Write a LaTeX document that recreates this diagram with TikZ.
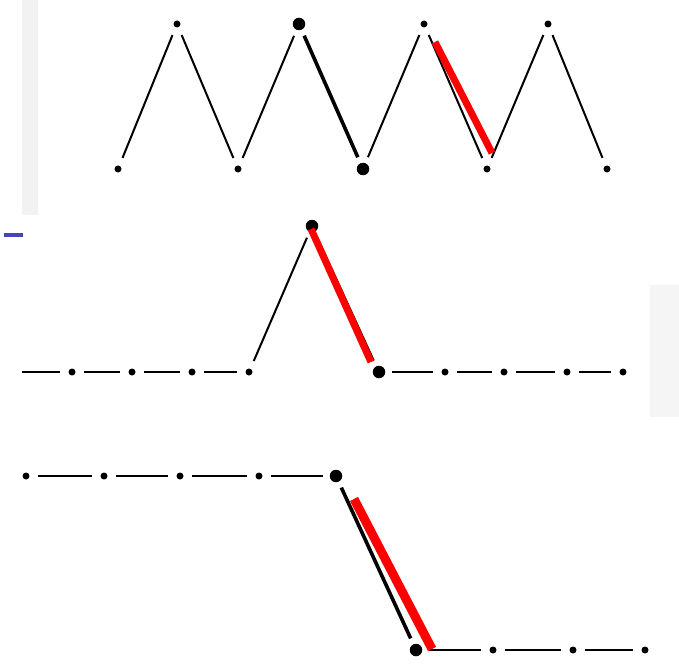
\documentclass[tikz,border=0pt]{standalone}
\usetikzlibrary{calc}

\tikzset{
  dot/.style={circle,fill=black,inner sep=0pt,minimum size=7pt,outer sep=8.5pt},
  bigdot/.style={dot,minimum size=12.5pt,outer sep=6.5pt},
  seg/.style={line width=2pt},
  heavy/.style={line width=3.6pt},
  hilite/.style={red,line width=7pt},
}

\begin{document}
\begin{tikzpicture}[x=1pt,y=-1pt]
  \useasboundingbox (0,0) rectangle (679,663);
  \fill[black!5] (22,0) rectangle (38,215);
  \fill[black!4] (650,285) rectangle (679,417);
  \fill[blue!45!gray] (4,233) rectangle (23,237);

  % zigzag
  \node[dot] (t1) at (118,169) {};
  \node[dot] (t2) at (177,24) {};
  \node[dot] (t3) at (238,169) {};
  \node[bigdot] (t4) at (299,24) {};
  \node[bigdot] (t5) at (363,169) {};
  \node[dot] (t6) at (424,24) {};
  \node[dot] (t7) at (487,169) {};
  \node[dot] (t8) at (548,24) {};
  \node[dot] (t9) at (607,169) {};
  \foreach \a/\b in {t1/t2,t2/t3,t3/t4,t5/t6,t6/t7,t7/t8,t8/t9}
    \draw[seg] (\a) -- (\b);
  \draw[heavy] (t4) -- (t5);
  \draw[hilite] ([shift={(11,18)}]t6.center) -- ([shift={(5,-16)}]t7.center);

  % single peak
  \coordinate (m0) at (22,372);
  \node[dot] (m1) at (72,372) {};
  \node[dot] (m2) at (132,372) {};
  \node[dot] (m3) at (192,372) {};
  \node[dot] (m4) at (249,372) {};
  \node[bigdot] (m5) at (312,226) {};
  \node[bigdot] (m6) at (379,372) {};
  \node[dot] (m7) at (445,372) {};
  \node[dot] (m8) at (504,372) {};
  \node[dot] (m9) at (567,372) {};
  \node[dot] (m10) at (623,372) {};
  \foreach \a/\b in {m0/m1,m1/m2,m2/m3,m3/m4,m4/m5,m5/m6,m6/m7,m7/m8,m8/m9,m9/m10}
    \draw[seg] (\a) -- (\b);
  \draw[hilite] ([shift={(-1,3)}]m5.center) -- ([shift={(-8,-10)}]m6.center);

  % step
  \node[dot] (b1) at (26,476) {};
  \node[dot] (b2) at (104,476) {};
  \node[dot] (b3) at (180,476) {};
  \node[dot] (b4) at (259,476) {};
  \node[bigdot] (b5) at (336,476) {};
  \node[bigdot] (c1) at (416,650) {};
  \node[dot] (c2) at (493,650) {};
  \node[dot] (c3) at (573,650) {};
  \node[dot] (c4) at (645,650) {};
  \foreach \a/\b in {b1/b2,b2/b3,b3/b4,b4/b5,c1/c2,c2/c3,c3/c4}
    \draw[seg] (\a) -- (\b);
  \draw[heavy] (b5) -- (c1);
  \draw[hilite,line width=9pt] ([shift={(18,23)}]b5.center) -- ([shift={(16,-1)}]c1.center);
\end{tikzpicture}
\end{document}
